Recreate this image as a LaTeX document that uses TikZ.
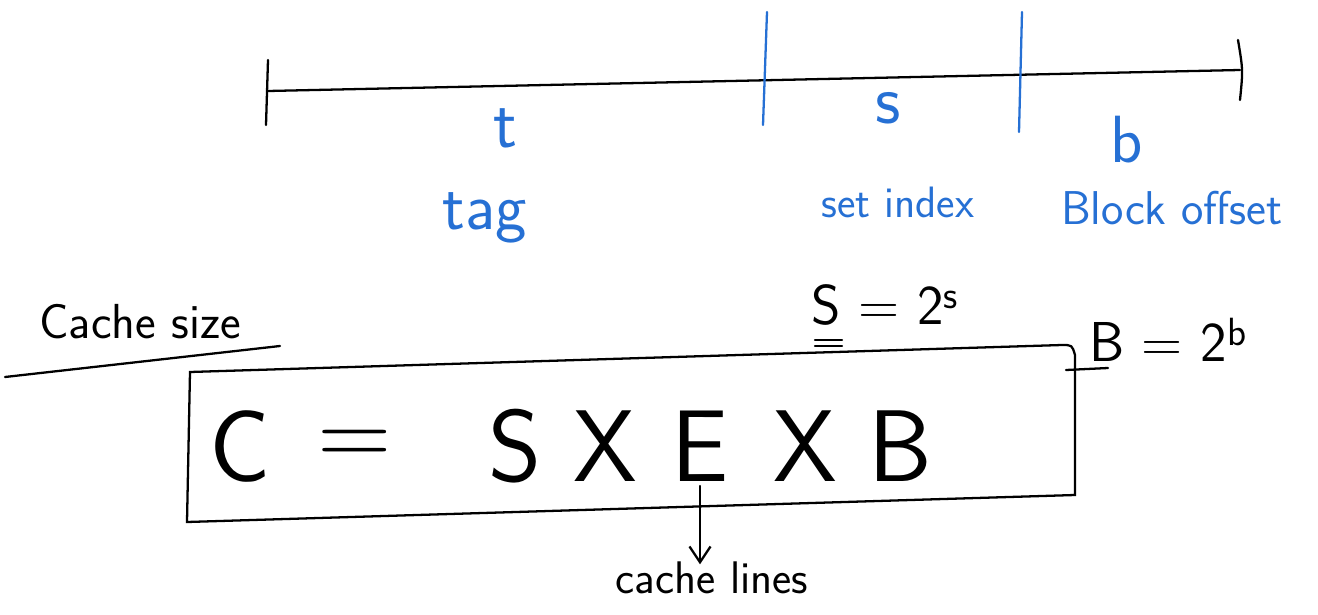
\documentclass[tikz,border=0pt]{standalone}
\usepackage{tikz}
\usetikzlibrary{arrows.meta,positioning}
\definecolor{penblue}{RGB}{38,112,212}
\tikzset{
  penlbl/.style={text=penblue,inner sep=0pt,font=\sffamily\fontsize{#1}{#1}\selectfont},
  inklbl/.style={text=black,inner sep=0pt,font=\sffamily\fontsize{#1}{#1}\selectfont},
  bigsym/.style={inklbl=58}
}

\begin{document}
\begin{tikzpicture}[x=0.02cm,y=-0.02cm,>={Straight Barb[length=9pt,width=12pt]},line width=1.3pt,line cap=round]
  \useasboundingbox (0,0) rectangle (1318,615);
  % address bits t | s | b
  \draw (268,91) -- (1240,70);
  \draw (268,60) -- (266,125);
  \draw (1238,40) .. controls (1243,70) .. (1240,100);
  \draw[penblue] (767,12) -- (763,125);
  \draw[penblue] (1022,12) -- (1019,132);
  \node[penlbl=40] (t) at (505,128) {t};
  \node[penlbl=40] (s) at (888,108) {s};
  \node[penlbl=38] (b) at (1127,140) {b};
  \node[penlbl=38] (tag) at (485,218) {tag};
  \node[penlbl=25] (setidx) at (898,202) {set index};
  \node[penlbl=27] (boff) at (1172,208) {Block offset};
  % sizes
  \node[inklbl=32] (Sdef) at (885,305) {S = 2\textsuperscript{s}};
  \draw (815,340) -- (842,340); \draw (815,346) -- (842,346);
  \node[inklbl=32] (Bdef) at (1168,340) {B = 2\textsuperscript{b}};
  \draw (1066,370) -- (1108,368);
  \node[inklbl=28] (csize) at (140,322) {Cache size};
  \draw (5,377) -- (280,346);
  % C = S x E x B
  \draw (190,372) -- (1062,345) .. controls (1072,345) .. (1075,355) -- (1075,495) -- (187,522) -- cycle;
  \node[bigsym] (C) at (240,446) {C};
  \node[bigsym] (eq) at (355,448) {=};
  \node[bigsym] (S) at (515,446) {S};
  \node[bigsym] (x1) at (605,446) {X};
  \node[bigsym] (E) at (700,446) {E};
  \node[bigsym] (x2) at (805,446) {X};
  \node[bigsym] (B) at (900,446) {B};
  \node[inklbl=26] (lines) at (712,578) {cache lines};
  \draw[->] ([yshift=-2pt]E.south) -- ([yshift=-2pt]E.south |- lines.north);
\end{tikzpicture}
\end{document}
